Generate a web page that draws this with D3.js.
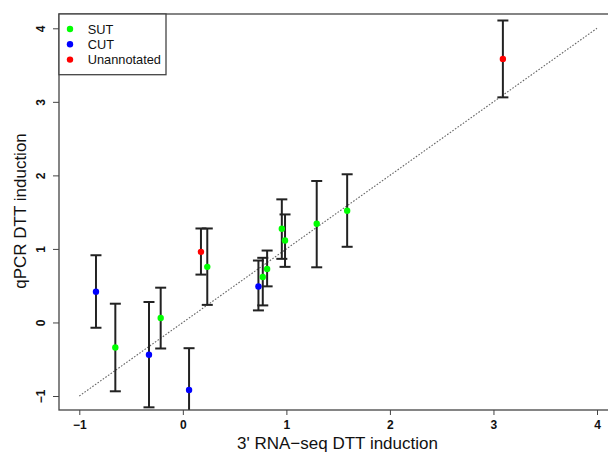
<!DOCTYPE html>
<html>
<head>
<meta charset="utf-8">
<script src="https://cdn.jsdelivr.net/npm/d3@7"></script>
<style>
  html, body { margin: 0; padding: 0; background: #fff; }
  svg { display: block; font-family: "Liberation Sans", Arial, sans-serif; }
</style>
</head>
<body>
<svg id="chart" width="608" height="453"></svg>
<script>
// Transcript classes, one per measured transcript
const categories = ["CUT", "SUT", "CUT", "SUT", "CUT", "Unannotated", "SUT", "CUT",
                    "SUT", "SUT", "SUT", "SUT", "SUT", "SUT", "Unannotated"];
// 3' RNA-seq induction (x) and qPCR induction (y) with error-bar limits
const rnaSeq = [-0.839, -0.652, -0.327, -0.214, 0.06, 0.175, 0.236, 0.73,
                0.772, 0.814, 0.956, 0.987, 1.293, 1.587, 3.091];
const qpcr   = [0.419, -0.341, -0.44, 0.06, -0.918, 0.96, 0.756, 0.49,
                0.619, 0.728, 1.274, 1.115, 1.342, 1.52, 3.584];
const qpcrLo = [-0.072, -0.936, -1.154, -0.354, -1.486, 0.651, 0.239, 0.164,
                0.232, 0.491, 0.865, 0.756, 0.75, 1.029, 3.061];
const qpcrHi = [0.914, 0.255, 0.278, 0.473, -0.35, 1.278, 1.278, 0.842,
                0.879, 0.978, 1.674, 1.469, 1.924, 2.015, 4.106];
const legendLabels = ["SUT", "CUT", "Unannotated"];
const legendColors = ["#00ff00", "#0000ff", "#ff0000"];
const tickValues = [-1, 0, 1, 2, 3, 4];
const identityLine = [-1, 4];

const svg = d3.select("#chart");
const frame = { left: 59, top: 14, right: 612, bottom: 410 };

const x = d3.scaleLinear().domain([-1, 4]).range([79.3, 597]);
const y = d3.scaleLinear().domain([-1, 4]).range([396, 28.3]);
const color = d3.scaleOrdinal().domain(legendLabels).range(legendColors);

svg.append("defs").append("clipPath").attr("id", "plotClip")
  .append("rect")
  .attr("x", frame.left).attr("y", frame.top)
  .attr("width", frame.right - frame.left).attr("height", frame.bottom - frame.top);

const plot = svg.append("g").attr("clip-path", "url(#plotClip)");

// y = x reference line
plot.append("line")
  .attr("x1", x(identityLine[0])).attr("y1", y(identityLine[0]))
  .attr("x2", x(identityLine[1])).attr("y2", y(identityLine[1]))
  .attr("stroke", "#666").attr("stroke-width", 1.1)
  .attr("stroke-dasharray", "1.6,1.6");

const rows = rnaSeq.map((v, i) => ({
  x: v, y: qpcr[i], lo: qpcrLo[i], hi: qpcrHi[i], type: categories[i]
}));

// error bars with caps
const capHalf = 5.5;
const bars = plot.append("g")
  .attr("stroke", "#222").attr("stroke-width", 2).attr("fill", "none");
rows.forEach(d => {
  const g = bars.append("g");
  g.append("line").attr("x1", x(d.x)).attr("x2", x(d.x))
    .attr("y1", y(d.lo)).attr("y2", y(d.hi));
  g.append("line").attr("x1", x(d.x) - capHalf).attr("x2", x(d.x) + capHalf)
    .attr("y1", y(d.hi)).attr("y2", y(d.hi));
  g.append("line").attr("x1", x(d.x) - capHalf).attr("x2", x(d.x) + capHalf)
    .attr("y1", y(d.lo)).attr("y2", y(d.lo));
});

// points
plot.append("g").selectAll("circle").data(rows).join("circle")
  .attr("cx", d => x(d.x)).attr("cy", d => y(d.y)).attr("r", 3.2)
  .attr("fill", d => color(d.type));

// plot frame
svg.append("rect")
  .attr("x", frame.left).attr("y", frame.top)
  .attr("width", frame.right - frame.left).attr("height", frame.bottom - frame.top)
  .attr("fill", "none").attr("stroke", "#444").attr("stroke-width", 1.3);

// x axis
const xAxis = svg.append("g")
  .attr("transform", `translate(0,${frame.bottom})`)
  .call(d3.axisBottom(x).tickValues(tickValues).tickSize(5).tickSizeOuter(0)
    .tickFormat(d3.format("d")));
xAxis.select(".domain").remove();
xAxis.selectAll("line").attr("stroke", "#444");
xAxis.selectAll("text")
  .attr("y", 19).attr("dy", 0)
  .attr("fill", "#111").attr("font-size", 12).attr("font-weight", "bold")
  .attr("font-family", "Liberation Sans, Arial, sans-serif")
  .text(d => d < 0 ? "\u2212" + Math.abs(d) : d);

// y axis, labels turned to read upward
const yAxis = svg.append("g")
  .attr("transform", `translate(${frame.left},0)`)
  .call(d3.axisLeft(y).tickValues(tickValues).tickSize(6).tickSizeOuter(0)
    .tickFormat(d3.format("d")));
yAxis.select(".domain").remove();
yAxis.selectAll("line").attr("stroke", "#444");
yAxis.selectAll("text")
  .attr("x", 0).attr("y", -14).attr("dy", 0)
  .attr("transform", "rotate(-90)")
  .attr("text-anchor", "middle")
  .attr("fill", "#111").attr("font-size", 12).attr("font-weight", "bold")
  .attr("font-family", "Liberation Sans, Arial, sans-serif")
  .text(d => d < 0 ? "\u2212" + Math.abs(d) : d);

// axis titles
svg.append("text")
  .attr("x", 337.5).attr("y", 449)
  .attr("text-anchor", "middle").attr("font-size", 17).attr("fill", "#111")
  .text("3' RNA\u2212seq DTT induction");
svg.append("text")
  .attr("transform", "translate(26,211) rotate(-90)")
  .attr("text-anchor", "middle").attr("font-size", 17).attr("fill", "#111")
  .text("qPCR DTT induction");

// legend
const legend = svg.append("g");
legend.append("rect")
  .attr("x", frame.left).attr("y", frame.top)
  .attr("width", 107).attr("height", 60.7)
  .attr("fill", "#fff").attr("stroke", "#444").attr("stroke-width", 1.3);
legendLabels.forEach((lab, i) => {
  const cy = 29 + i * 15.3;
  legend.append("circle").attr("cx", 70).attr("cy", cy).attr("r", 3.2)
    .attr("fill", color(lab));
  legend.append("text").attr("x", 87.7).attr("y", cy + 4.6)
    .attr("font-size", 12.8).attr("fill", "#111").text(lab);
});
</script>
</body>
</html>
